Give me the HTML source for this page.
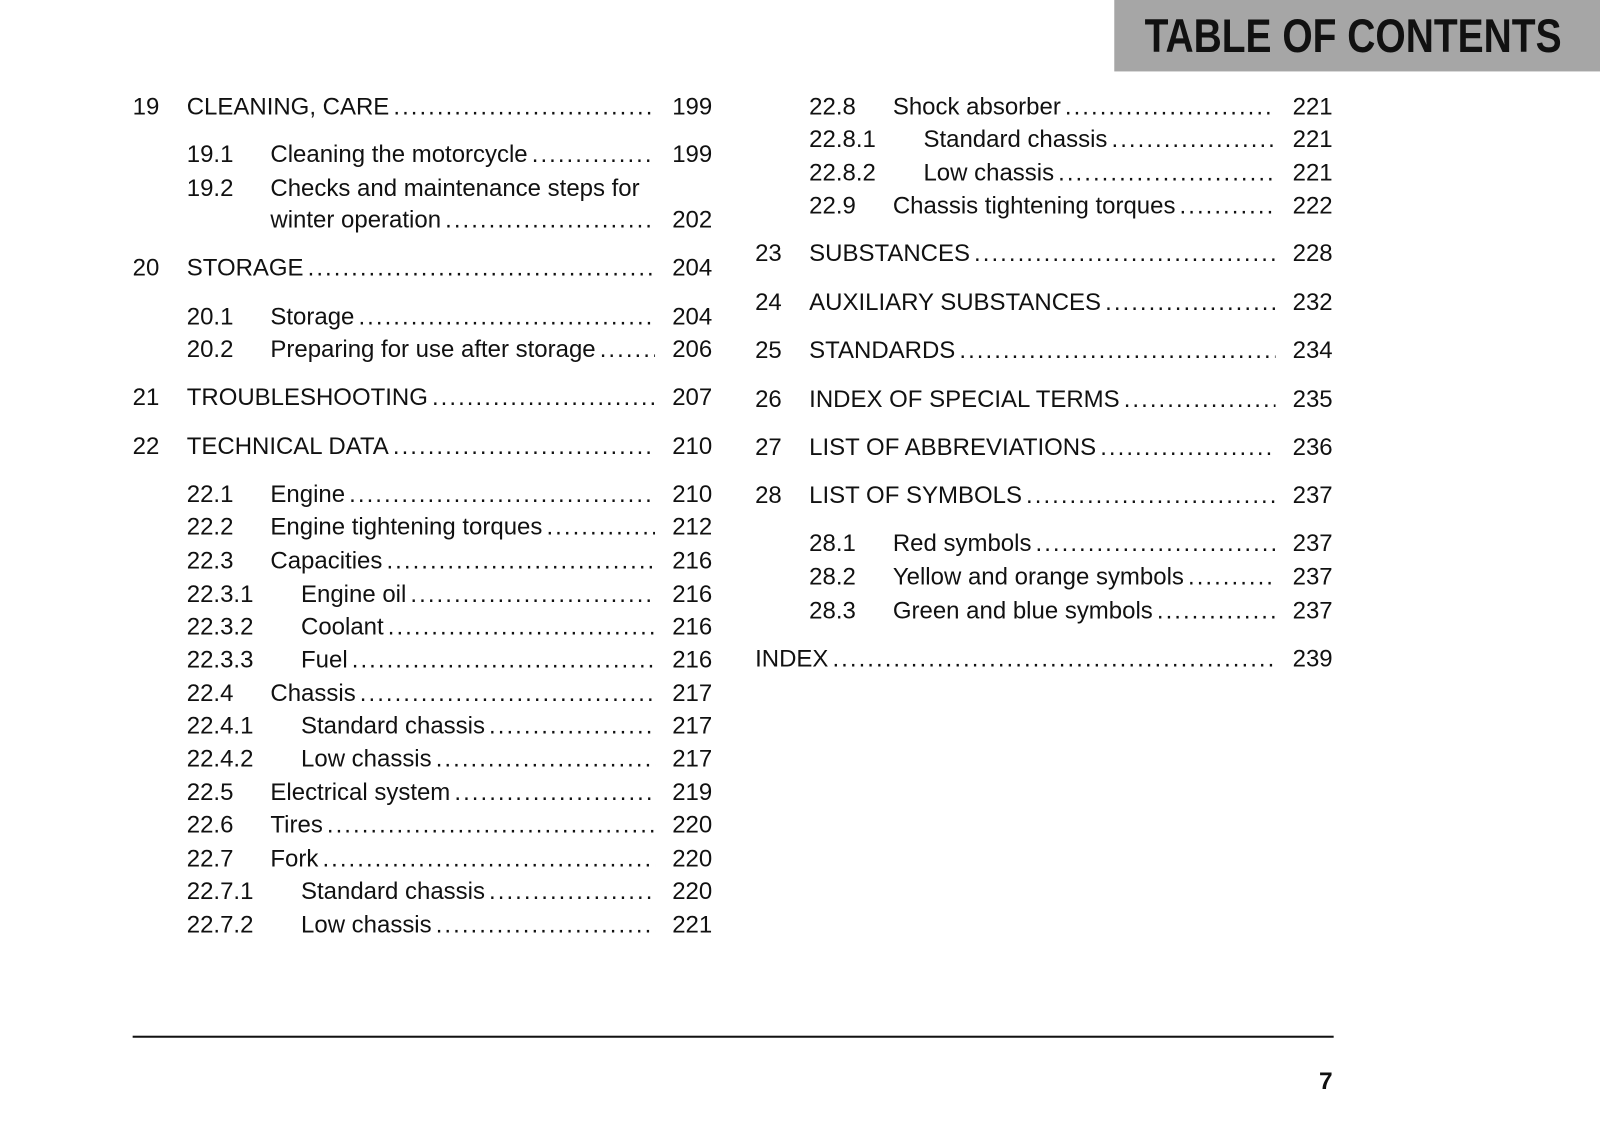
<!DOCTYPE html>
<html><head><meta charset="utf-8">
<style>
html,body{margin:0;padding:0;background:#fff;}
body{width:1600px;height:1132px;position:relative;overflow:hidden;font-family:"Liberation Sans",sans-serif;color:#111;}
#wrap{position:absolute;left:0;top:0;width:1568px;height:1110px;transform:scale(1.0204);transform-origin:0 0;}
#hdr{position:absolute;left:1092px;top:0;width:480px;height:70px;background:#a6a6a6;}
#hdr span{position:absolute;right:42px;top:8px;font-weight:bold;font-size:46px;transform:scaleX(0.83);transform-origin:right center;color:#111;white-space:nowrap;}
.num,.ttl,.pg{position:absolute;height:32px;line-height:32px;font-size:23.5px;white-space:nowrap;}
.ttl{display:flex;overflow:hidden;}
.ttl .t{flex:none;padding-right:4px;}
.ttl .d{flex:1;overflow:hidden;letter-spacing:2px;}
.pg{text-align:right;width:60px;}
#rule{position:absolute;left:130px;top:1015px;width:1177px;height:2px;background:#111;}
#pnum{position:absolute;left:1280px;width:26px;text-align:right;top:1046px;font-size:24px;font-weight:bold;}
</style></head><body>
<div id="wrap">
<div id="hdr"><span>TABLE OF CONTENTS</span></div>
<div id="rule"></div>
<div id="pnum">7</div>
</div>
<script>
const leftNums=["19","19.1","19.2","","20","20.1","20.2","21","22","22.1","22.2","22.3","22.3.1","22.3.2","22.3.3","22.4","22.4.1","22.4.2","22.5","22.6","22.7","22.7.1","22.7.2"];
const leftTitles=["CLEANING, CARE","Cleaning the motorcycle","Checks and maintenance steps for","winter operation","STORAGE","Storage","Preparing for use after storage","TROUBLESHOOTING","TECHNICAL DATA","Engine","Engine tightening torques","Capacities","Engine oil","Coolant","Fuel","Chassis","Standard chassis","Low chassis","Electrical system","Tires","Fork","Standard chassis","Low chassis"];
const leftLevels=[0,1,1,3,0,1,1,0,0,1,1,1,2,2,2,1,2,2,1,1,1,2,2];
const leftPages=["199","199","","202","204","204","206","207","210","210","212","216","216","216","216","217","217","217","219","220","220","220","221"];
const leftY=[104,151,184,215,262,310,342,389,437,484,516,549,582,614,646,679,711,743,776,808,841,873,906];
const rightNums=["22.8","22.8.1","22.8.2","22.9","23","24","25","26","27","28","28.1","28.2","28.3",""];
const rightTitles=["Shock absorber","Standard chassis","Low chassis","Chassis tightening torques","SUBSTANCES","AUXILIARY SUBSTANCES","STANDARDS","INDEX OF SPECIAL TERMS","LIST OF ABBREVIATIONS","LIST OF SYMBOLS","Red symbols","Yellow and orange symbols","Green and blue symbols","INDEX"];
const rightLevels=[1,2,2,1,0,0,0,0,0,0,1,1,1,0];
const rightPages=["221","221","221","222","228","232","234","235","236","237","237","237","237","239"];
const rightY=[104,136,169,201,248,296,343,391,438,485,532,565,598,645];
const wrap=document.getElementById('wrap');
function col(nums,titles,levels,pages,ys,base,pgRight,dotEnd){
  for(let i=0;i<titles.length;i++){
    const lv=levels[i], top=ys[i]-16;
    const numX = lv===0? base : base+53;
    let tX = lv===0? base+53 : (lv===1||lv===3? base+135 : base+165);
    if(nums[i]==="" && lv===0) tX=base;
    if(nums[i]){
      const n=document.createElement('div');n.className='num';
      
      
      n.style.left=numX+'px';n.style.top=top+'px';n.textContent=nums[i];wrap.appendChild(n);
    }
    const t=document.createElement('div');t.className='ttl';
    
    
    t.style.left=tX+'px';t.style.top=top+'px';
    t.style.width=(pages[i]?dotEnd-tX:500)+'px';
    const s=document.createElement('span');s.className='t';s.textContent=titles[i];t.appendChild(s);
    if(pages[i]){const d=document.createElement('span');d.className='d';d.textContent='.'.repeat(200);t.appendChild(d);}
    wrap.appendChild(t);
    if(pages[i]){
      const p=document.createElement('div');p.className='pg';
      
      
      p.style.left=(pgRight-60)+'px';p.style.top=top+'px';p.textContent=pages[i];wrap.appendChild(p);
    }
  }
}
col(leftNums,leftTitles,leftLevels,leftPages,leftY,130,698,642);
col(rightNums,rightTitles,rightLevels,rightPages,rightY,740,1306,1250);
</script>
</body></html>
